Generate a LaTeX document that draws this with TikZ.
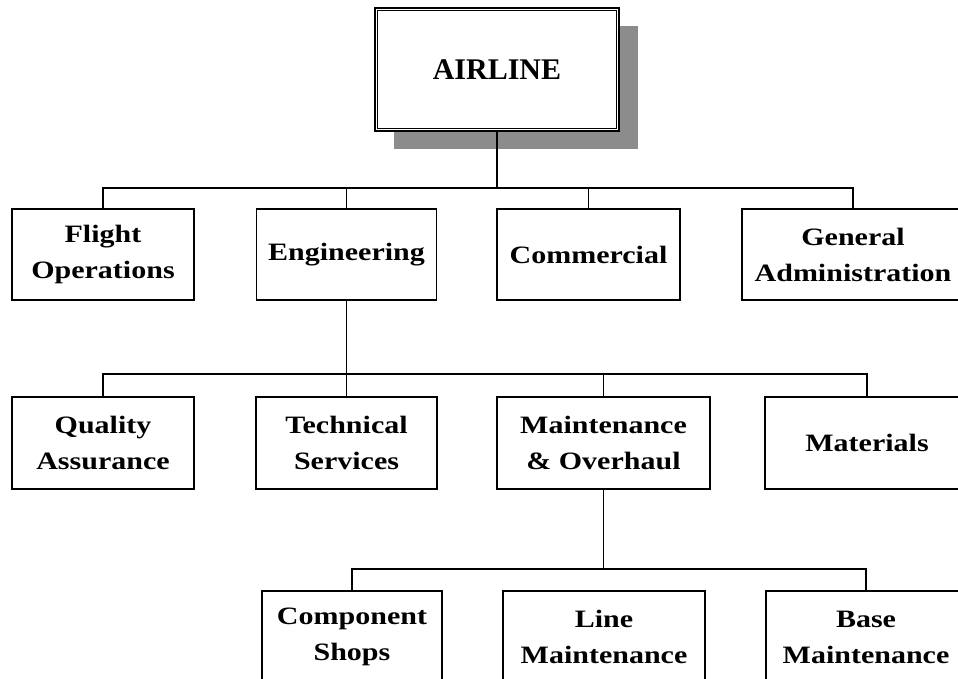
\documentclass[tikz,border=0pt]{standalone}
\usepackage{fontspec}
\setmainfont{Liberation Serif}
\newfontfamily\boxfont{Liberation Serif}[FakeStretch = 1.2]
\usetikzlibrary{calc}

\tikzset{
	unit/.style = {draw = black, line width = 1.8pt, fill = white, inner sep = 0pt, align = center, font = \boxfont\bfseries\fontsize{25}{36}\selectfont},
	link/.style = {black, line width = 1.8pt},
}

\begin{document}
\begin{tikzpicture}[x = 1pt, y = 1pt]

	\useasboundingbox (0, 0) rectangle (958, 679);
	\clip (0, 0) rectangle (958, 679); % moldura da figura

	% Topo
	\fill[black!45] (394, 530) rectangle (638, 653); % sombra
	\node[unit, line width = 2.2pt, minimum width = 244pt, minimum height = 123pt, font = \bfseries\fontsize{30}{36}\selectfont] (airline) at (497, 609.5) {AIRLINE};
	\draw[black, line width = 0.9pt] ($(airline.south west) + (4pt, 4pt)$) rectangle ($(airline.north east) + (-4pt, -4pt)$);

	% Nivel 1
	\node[unit, minimum width = 182pt, minimum height = 91pt] (flight) at (103, 424.5) {Flight\\Operations};
	\node[unit, minimum width = 180pt, minimum height = 91pt] (eng)    at (346.5, 424.5) {Engineering};
	\node[unit, minimum width = 183pt, minimum height = 91pt] (comm)   at (588.5, 424.5) {Commercial};
	\node[unit, minimum width = 222pt, minimum height = 91pt] (genadm) at (853, 424.5) {General\\Administration};

	% Nivel 2
	\node[unit, minimum width = 182pt, minimum height = 92pt] (qa)    at (103, 236) {Quality\\Assurance};
	\node[unit, minimum width = 181pt, minimum height = 92pt] (techs) at (346.5, 236) {Technical\\Services};
	\node[unit, minimum width = 213pt, minimum height = 92pt] (mo)    at (603.5, 236) {Maintenance\\\& Overhaul};
	\node[unit, minimum width = 204pt, minimum height = 92pt] (mat)   at (867, 236) {Materials};

	% Nivel 3
	\node[unit, minimum width = 180pt, minimum height = 92pt] (comps) at (352, 42) {Component\\Shops};
	\node[unit, minimum width = 202pt, minimum height = 92pt] (linem) at (604, 42) {Line\\Maintenance};
	\node[unit, minimum width = 200pt, minimum height = 92pt] (basem) at (866, 42) {Base\\Maintenance};

	% Ligacoes
	\coordinate (bus1) at (0, 491);
	\coordinate (bus2) at (0, 305);
	\coordinate (bus3) at (0, 110);

	\draw[link] (airline.south) -- (airline.south |- bus1);
	\draw[link] (flight.north) -- (flight.north |- bus1) -- (genadm.north |- bus1) -- (genadm.north);
	\draw[link] (eng.north) -- (eng.north |- bus1);
	\draw[link] (comm.north) -- (comm.north |- bus1);

	\draw[link] (eng.south) -- (techs.north);
	\draw[link] (qa.north) -- (qa.north |- bus2) -- (mat.north |- bus2) -- (mat.north);
	\draw[link] (mo.north) -- (mo.north |- bus2);

	\draw[link] (mo.south) -- (mo.south |- bus3);
	\draw[link] (comps.north) -- (comps.north |- bus3) -- (basem.north |- bus3) -- (basem.north);

\end{tikzpicture}
\end{document}
